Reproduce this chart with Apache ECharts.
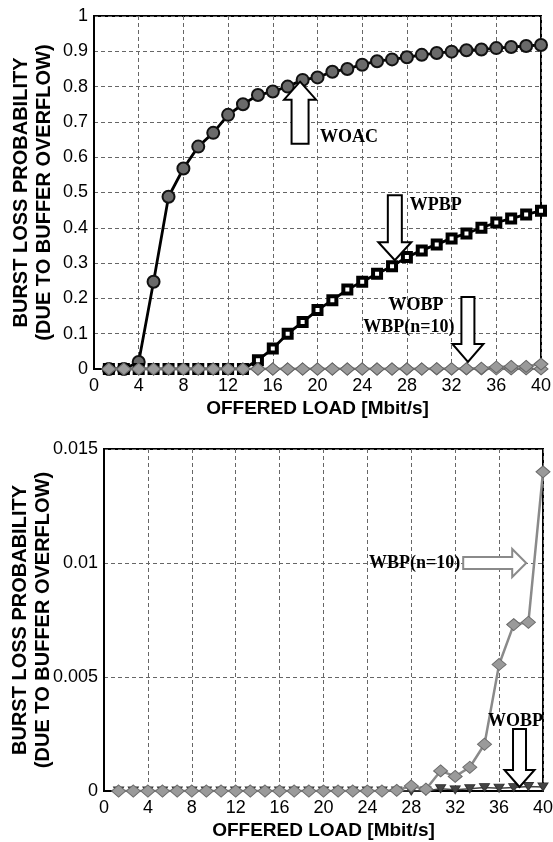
<!DOCTYPE html>
<html>
<head>
<meta charset="utf-8">
<script src="https://cdn.jsdelivr.net/npm/echarts@6/dist/echarts.min.js"></script>
<style>
html,body{margin:0;padding:0;background:#fff;}
#c{width:553px;height:842px;}
</style>
</head>
<body>
<div id="c"></div>
<script>
// ---- data ----
const xLoad = [1.33, 2.67, 4, 5.33, 6.67, 8, 9.33, 10.67, 12, 13.33, 14.67, 16, 17.33, 18.67, 20,
  21.33, 22.67, 24, 25.33, 26.67, 28, 29.33, 30.67, 32, 33.33, 34.67, 36, 37.33, 38.67, 40];
const woac = [0, 0, 0.02, 0.247, 0.488, 0.568, 0.63, 0.669, 0.72, 0.75, 0.776, 0.786, 0.80, 0.819, 0.826,
  0.842, 0.85, 0.862, 0.872, 0.877, 0.883, 0.89, 0.895, 0.899, 0.903, 0.905, 0.909, 0.912, 0.915, 0.918];
const wpbp = [0, 0, 0, 0, 0, 0, 0, 0, 0, 0, 0.025, 0.058, 0.1, 0.133, 0.167,
  0.195, 0.225, 0.247, 0.27, 0.291, 0.317, 0.336, 0.353, 0.37, 0.384, 0.4, 0.415, 0.426, 0.438, 0.448];
const wbp10 = [0, 0, 0, 0, 0, 0, 0, 0, 0, 0, 0, 0, 0, 0, 0,
  0, 0, 0, 0, 0.00003, 0.00022, 0.00008, 0.00088, 0.00064, 0.00104, 0.00205, 0.00555, 0.0073, 0.0074, 0.0140];
const wobp = [0, 0, 0, 0, 0, 0, 0, 0, 0, 0, 0, 0, 0, 0, 0,
  0, 0, 0, 0, 0, 0, 0, 0.0001, 0.00005, 0.0001, 0.00015, 0.00012, 0.00015, 0.0002, 0.00018];
const xTicks = [0, 40, 4];           // min, max, interval
const yTicksTop = [0, 1, 0.1];
const yTicksBottom = [0, 0.015, 0.005];
const xTitle = 'OFFERED LOAD [Mbit/s]';
const yTitle = 'BURST LOSS PROBABILITY\n(DUE TO BUFFER OVERFLOW)';

// annotations: arrow tip in data coords, label offsets in px from the tip
const annotations = [
  {grid: 0, tip: [18.44, 0.814], dir: 'up',    len: 62, head: 18, headW: 32, shaftW: 17, stroke: '#000',
    texts: [{t: 'WOAC', dx: 20, dy: 56, align: 'left'}]},
  {grid: 0, tip: [26.92, 0.308], dir: 'down',  len: 65, head: 18, headW: 33, shaftW: 14, stroke: '#000',
    texts: [{t: 'WPBP', dx: 15, dy: -55, align: 'left'}]},
  {grid: 0, tip: [33.46, 0.02],  dir: 'down',  len: 65, head: 18, headW: 31, shaftW: 13, stroke: '#000',
    texts: [{t: 'WOBP', dx: -52, dy: -57, align: 'center'}, {t: 'WBP(n=10)', dx: -59, dy: -35, align: 'center'}]},
  {grid: 1, tip: [38.47, 0.01],  dir: 'right', len: 63, head: 14, headW: 28, shaftW: 12, stroke: '#8a8a8a',
    texts: [{t: 'WBP(n=10)', dx: -66, dy: 0, align: 'right'}]},
  {grid: 1, tip: [37.86, 0.000175], dir: 'down', len: 58, head: 17, headW: 30, shaftW: 13, stroke: '#000',
    texts: [{t: 'WOBP', dx: -4, dy: -66, align: 'center'}]}
];

const pairs = arr => xLoad.map((x, i) => [x, arr[i]]);

const chart = echarts.init(document.getElementById('c'), null, {renderer: 'canvas'});

const gridLine = {show: true, lineStyle: {color: '#666', type: [4, 3], width: 1}};
const axisLine = {show: true, lineStyle: {color: '#000', width: 2}};
const tickLabel = {color: '#000', fontFamily: 'Liberation Sans, Arial, sans-serif', fontSize: 18};
const titleText = {color: '#000', fontFamily: 'Liberation Sans, Arial, sans-serif', fontSize: 19, fontWeight: 'bold'};

function xAxis(gi) {
  return {
    type: 'value', gridIndex: gi, min: xTicks[0], max: xTicks[1], interval: xTicks[2],
    axisLine: axisLine, axisTick: {show: false}, splitLine: gridLine,
    axisLabel: Object.assign({margin: 8}, tickLabel),
    name: xTitle, nameLocation: 'middle', nameGap: 30, nameMoveOverlap: false,
    nameTextStyle: Object.assign({lineHeight: 20}, titleText)
  };
}
function yAxis(gi, t, gap) {
  return {
    type: 'value', gridIndex: gi, min: t[0], max: t[1], interval: t[2],
    axisLine: axisLine, axisTick: {show: false}, splitLine: gridLine,
    axisLabel: Object.assign({margin: 6}, tickLabel),
    name: yTitle, nameLocation: 'middle', nameGap: gap, nameRotate: 90, nameMoveOverlap: false,
    nameTextStyle: Object.assign({lineHeight: 23}, titleText, {fontSize: 20})
  };
}

const diamondTop = {
  type: 'line', symbol: 'diamond', symbolSize: [14, 12],
  itemStyle: {color: '#9a9a9a', borderColor: '#666', borderWidth: 1},
  lineStyle: {color: '#888', width: 2.5}, z: 4
};

const option = {
  backgroundColor: '#fff',
  animation: false,
  grid: [
    {left: 94, right: 12, top: 16, height: 353, show: true, borderColor: '#000', borderWidth: 2,
      backgroundColor: 'transparent', containLabel: false, outerBoundsMode: 'none'},
    {left: 104, right: 10, top: 449, height: 342, show: true, borderColor: '#000', borderWidth: 2,
      backgroundColor: 'transparent', containLabel: false, outerBoundsMode: 'none'}
  ],
  xAxis: [xAxis(0), xAxis(1)],
  yAxis: [yAxis(0, yTicksTop, 38), yAxis(1, yTicksBottom, 49)],
  series: [
    {name: 'WOAC', type: 'line', xAxisIndex: 0, yAxisIndex: 0, data: pairs(woac),
      symbol: 'circle', symbolSize: 12,
      itemStyle: {color: '#6a6a6a', borderColor: '#111', borderWidth: 2},
      lineStyle: {color: '#000', width: 2.8}, z: 3},
    {name: 'WPBP', type: 'line', xAxisIndex: 0, yAxisIndex: 0, data: pairs(wpbp),
      symbol: 'rect', symbolSize: 8,
      itemStyle: {color: '#fff', borderColor: '#000', borderWidth: 4},
      lineStyle: {color: '#000', width: 2.8}, z: 3},
    Object.assign({name: 'WOBP', xAxisIndex: 0, yAxisIndex: 0, data: pairs(wobp)}, diamondTop),
    Object.assign({name: 'WBP(n=10)', xAxisIndex: 0, yAxisIndex: 0, data: pairs(wbp10)}, diamondTop),
    {name: 'WOBP ', type: 'line', xAxisIndex: 1, yAxisIndex: 1, data: pairs(wobp),
      symbol: 'triangle', symbolRotate: 180, symbolSize: [10, 8],
      itemStyle: {color: '#444', borderColor: '#333', borderWidth: 1},
      lineStyle: {color: '#444', width: 1.5}, z: 3},
    {name: 'WBP(n=10) ', type: 'line', xAxisIndex: 1, yAxisIndex: 1, data: pairs(wbp10),
      symbol: 'diamond', symbolSize: [14, 12],
      itemStyle: {color: '#9a9a9a', borderColor: '#6a6a6a', borderWidth: 1},
      lineStyle: {color: '#8a8a8a', width: 2.5}, z: 4}
  ]
};
chart.setOption(option);

function arrowPoints(tip, dir, L, H, W, S) {
  const d = {up: [0, -1], down: [0, 1], right: [1, 0], left: [-1, 0]}[dir];
  const n = [-d[1], d[0]];
  const bx = tip[0] - d[0] * H, by = tip[1] - d[1] * H;
  const tx = tip[0] - d[0] * L, ty = tip[1] - d[1] * L;
  const p = (x, y, k) => [x + n[0] * k, y + n[1] * k];
  return [tip, p(bx, by, W / 2), p(bx, by, S / 2), p(tx, ty, S / 2), p(tx, ty, -S / 2), p(bx, by, -S / 2), p(bx, by, -W / 2)];
}

const elements = [];
annotations.forEach(a => {
  const tip = chart.convertToPixel({gridIndex: a.grid}, a.tip);
  elements.push({
    type: 'polygon', z: 100,
    shape: {points: arrowPoints(tip, a.dir, a.len, a.head, a.headW, a.shaftW)},
    style: {fill: '#fff', stroke: a.stroke, lineWidth: 2}
  });
  a.texts.forEach(t => {
    elements.push({
      type: 'text', z: 101, x: tip[0] + t.dx, y: tip[1] + t.dy,
      style: {text: t.t, fill: '#000', font: 'bold 18px "Liberation Serif", "Times New Roman", serif',
        align: t.align, verticalAlign: 'middle'}
    });
  });
});
chart.setOption({graphic: {elements: elements}});
</script>
</body>
</html>
